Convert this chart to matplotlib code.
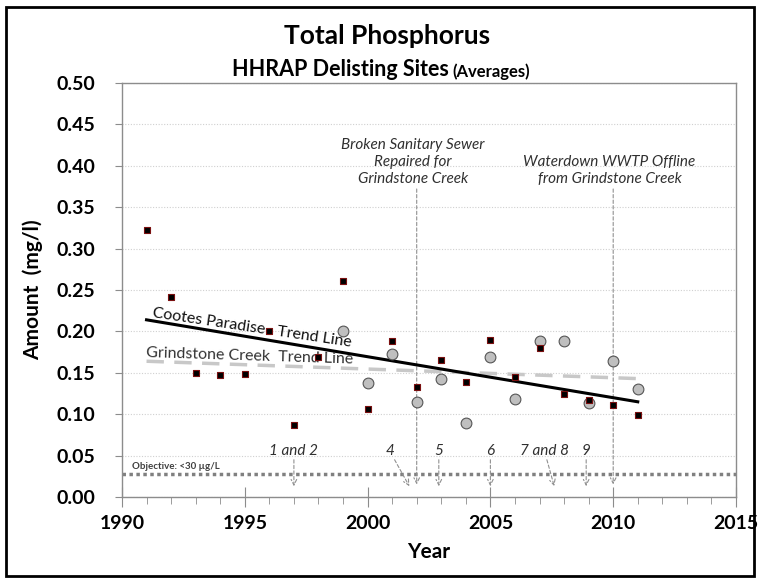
import matplotlib as mpl
mpl.use('Agg')
import matplotlib.pyplot as plt
from matplotlib.patches import Rectangle

plt.rcParams['font.family'] = ['Lato', 'DejaVu Sans']

# Cootes Paradise (squares)
cootes_years = [1991, 1992, 1993, 1994, 1995, 1996, 1997, 1998, 1999, 2000, 2001,
                2002, 2003, 2004, 2005, 2006, 2007, 2008, 2009, 2010, 2011]
cootes_tp = [0.322, 0.242, 0.150, 0.147, 0.149, 0.201, 0.087, 0.169, 0.261, 0.106, 0.188,
             0.133, 0.166, 0.139, 0.190, 0.145, 0.180, 0.124, 0.117, 0.111, 0.099]

# Grindstone Creek (circles)
grind_years = [1999, 2000, 2001, 2002, 2003, 2004, 2005, 2006, 2007, 2008, 2009, 2010, 2011]
grind_tp = [0.200, 0.138, 0.173, 0.115, 0.142, 0.089, 0.169, 0.118, 0.188, 0.188, 0.114, 0.164, 0.131]

# trend line end points
trend_years = [1991, 2011]
cootes_trend = [0.214, 0.115]
grind_trend = [0.164, 0.143]

objective = 0.028

# event markers along the bottom: label, text x, arrow start x, arrow end x
events = [("1 and 2", 1997.0, 1997.0, 1997.0),
          ("4", 2000.9, 2001.1, 2001.7),
          ("5", 2002.9, 2002.9, 2002.9),
          ("6", 2005.0, 2005.0, 2005.0),
          ("7 and 8", 2007.2, 2007.3, 2007.6),
          ("9", 2008.9, 2008.9, 2008.9)]

fig = plt.figure(figsize=(7.59, 5.78), dpi=100)
ax = fig.add_axes([0.1607, 0.1401, 0.809, 0.7163])

for s in ax.spines.values():
    s.set_color('#8c8c8c')
    s.set_linewidth(1.0)

ax.set_xlim(1990, 2015)
ax.set_ylim(0, 0.5)
ax.set_yticks([i * 0.05 for i in range(11)])
ax.set_xticks([1990, 1995, 2000, 2005, 2010, 2015])
ax.set_xticks(range(1990, 2016), minor=True)
ax.yaxis.set_major_formatter(mpl.ticker.FormatStrFormatter('%.2f'))
ax.tick_params(axis='y', length=5, direction='out', color='#8c8c8c', pad=14,
               labelsize=14)
ax.tick_params(axis='x', which='major', length=14, direction='inout', color='#8c8c8c',
               pad=6, labelsize=14)
ax.tick_params(axis='x', which='minor', length=5, direction='out', color='#8c8c8c')
for lab in ax.get_xticklabels() + ax.get_yticklabels():
    lab.set_fontweight('bold')

ax.grid(axis='y', color='#d0d0d0', linestyle=(0, (1, 1.5)), linewidth=0.8)
ax.set_axisbelow(True)

ax.set_xlabel('Year', fontsize=15, fontweight='bold', labelpad=7)
ax.set_ylabel('Amount  (mg/l)', fontsize=15, fontweight='bold', labelpad=10)

# objective line
ax.axhline(objective, color='#808080', linestyle=(0, (1, 1)), linewidth=2.5, zorder=1)
ax.text(1990.4, objective + 0.004, 'Objective: <30 \u00b5g/L', fontsize=7,
        fontweight='bold', color='#404040', va='bottom', ha='left')

# long event lines
for xe, lines in [(2002.0, 'Broken Sanitary Sewer\nRepaired for\nGrindstone Creek'),
                  (2010.0, 'Waterdown WWTP Offline\nfrom Grindstone Creek')]:
    ax.annotate('', xy=(xe, 0.015), xytext=(xe, 0.372),
                arrowprops=dict(arrowstyle='->', color='#909090', lw=0.8,
                                linestyle=(0, (3, 2)), shrinkA=0, shrinkB=0))
    ax.text(xe - 0.15, 0.376, lines, fontsize=11, fontstyle='italic', color='#303030',
            ha='center', va='bottom', linespacing=1.25)

# short event arrows
for lab, xt, xs, xe in events:
    ax.text(xt, 0.056, lab, fontsize=11, fontstyle='italic', color='#303030',
            ha='center', va='center')
    ax.annotate('', xy=(xe, 0.013), xytext=(xs, 0.045),
                arrowprops=dict(arrowstyle='->', color='#909090', lw=0.8,
                                linestyle=(0, (3, 2)), shrinkA=0, shrinkB=0))

# trend lines
ax.plot(trend_years, grind_trend, color='#c8c8c8', linestyle=(0, (5, 3)), linewidth=2.5, zorder=2)
ax.plot(trend_years, cootes_trend, color='black', linewidth=2.2, zorder=3)

# data points
ax.scatter(grind_years, grind_tp, s=60, marker='o', facecolor='#bfbfbf',
           edgecolor='#555555', linewidth=0.8, zorder=4)
ax.scatter(cootes_years, cootes_tp, s=22, marker='s', facecolor='black',
           edgecolor='#7a1010', linewidth=0.8, zorder=5)

ax.text(1995.3, 0.2045, 'Cootes Paradise   Trend Line', fontsize=11.5, rotation=-8.5,
        ha='center', va='center', rotation_mode='anchor', color='#111111')
ax.text(1995.2, 0.1705, 'Grindstone Creek  Trend Line', fontsize=11.5, rotation=-1.8,
        ha='center', va='center', rotation_mode='anchor', color='#333333')

# titles
fig.text(0.51, 0.938, 'Total Phosphorus', ha='center', va='center', fontsize=19,
         fontweight='bold')
fig.text(0.592, 0.879, 'HHRAP Delisting Sites', ha='right', va='center', fontsize=15.5,
         fontweight='bold')
fig.text(0.596, 0.876, '(Averages)', ha='left', va='center', fontsize=12,
         fontweight='bold')

# outer frame
fig.patches.append(Rectangle((0.008, 0.003), 0.986, 0.985, transform=fig.transFigure,
                             fill=False, edgecolor='black', linewidth=2))

fig.savefig('out.png', dpi=100)
